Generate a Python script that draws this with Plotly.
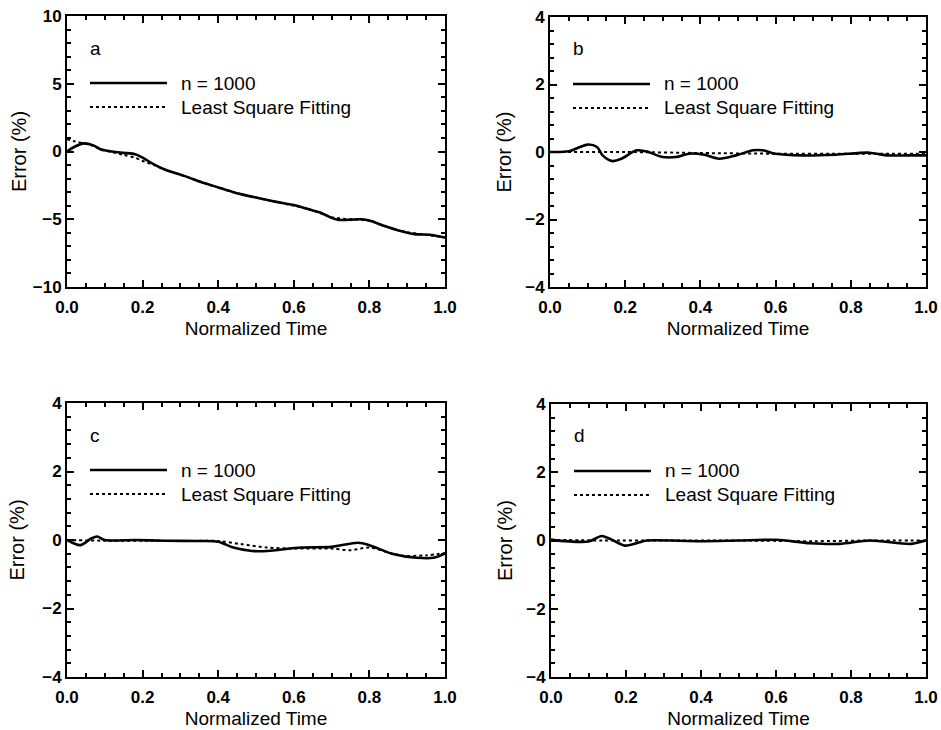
import plotly.graph_objects as go

# ---- data ----
a_sol_x = [0, 0.02, 0.044, 0.07, 0.09, 0.12, 0.15, 0.18, 0.2, 0.23, 0.26, 0.31, 0.36, 0.40, 0.44, 0.50, 0.55, 0.60, 0.65, 0.67, 0.70, 0.72, 0.78, 0.80, 0.84, 0.88, 0.92, 0.96, 1.0]
a_sol_y = [0, 0.35, 0.6, 0.45, 0.15, 0.0, -0.1, -0.2, -0.45, -0.95, -1.35, -1.8, -2.3, -2.65, -3.0, -3.4, -3.7, -3.95, -4.35, -4.5, -4.9, -5.05, -5.0, -5.1, -5.5, -5.85, -6.1, -6.15, -6.35]
a_fit_x = [0, 0.02, 0.044, 0.07, 0.09, 0.12, 0.15, 0.18, 0.2, 0.23, 0.26, 0.31, 0.36, 0.40, 0.44, 0.50, 0.55, 0.60, 0.65, 0.70, 0.75, 0.80, 0.85, 0.90, 0.95, 1.0]
a_fit_y = [0.9, 0.75, 0.6, 0.4, 0.15, -0.05, -0.25, -0.45, -0.7, -1.0, -1.35, -1.8, -2.3, -2.65, -3.0, -3.4, -3.7, -4.0, -4.35, -4.85, -5.0, -5.1, -5.6, -5.95, -6.15, -6.35]

b_sol_x = [0, 0.05, 0.08, 0.10, 0.125, 0.14, 0.166, 0.19, 0.23, 0.255, 0.30, 0.335, 0.37, 0.41, 0.45, 0.495, 0.54, 0.566, 0.60, 0.67, 0.76, 0.85, 0.895, 0.95, 1.0]
b_sol_y = [0, 0.02, 0.15, 0.22, 0.15, -0.1, -0.27, -0.2, 0.05, 0.02, -0.15, -0.15, -0.05, -0.08, -0.2, -0.1, 0.05, 0.05, -0.05, -0.1, -0.08, -0.02, -0.1, -0.1, -0.1]
b_fit_x = [0, 0.2, 0.4, 0.6, 0.8, 1.0]
b_fit_y = [0, 0.0, -0.03, -0.05, -0.05, -0.05]

c_sol_x = [0, 0.035, 0.065, 0.08, 0.1, 0.18, 0.26, 0.35, 0.40, 0.44, 0.49, 0.53, 0.62, 0.70, 0.77, 0.80, 0.86, 0.925, 0.97, 1.0]
c_sol_y = [0, -0.15, 0.05, 0.1, 0.0, 0.0, -0.02, -0.03, -0.05, -0.22, -0.32, -0.32, -0.22, -0.2, -0.08, -0.15, -0.4, -0.52, -0.52, -0.4]
c_fit_x = [0, 0.1, 0.2, 0.3, 0.4, 0.46, 0.53, 0.6, 0.7, 0.75, 0.8, 0.88, 0.95, 1.0]
c_fit_y = [0, -0.02, -0.02, -0.03, -0.03, -0.12, -0.22, -0.25, -0.25, -0.3, -0.22, -0.45, -0.45, -0.38]

d_sol_x = [0, 0.1, 0.135, 0.157, 0.197, 0.237, 0.255, 0.4, 0.5, 0.6, 0.69, 0.77, 0.85, 0.96, 1.0]
d_sol_y = [0.02, -0.03, 0.13, 0.05, -0.15, -0.05, 0.0, -0.02, 0.0, 0.02, -0.08, -0.1, 0.0, -0.1, 0.0]
d_fit_x = [0, 0.14, 0.3, 0.5, 0.7, 0.85, 1.0]
d_fit_y = [0.02, 0.0, 0.0, 0.0, -0.02, 0.0, 0.0]

panels = [
    ("a", a_sol_x, a_sol_y, a_fit_x, a_fit_y, [-10, 10], 5, 1),
    ("b", b_sol_x, b_sol_y, b_fit_x, b_fit_y, [-4, 4], 2, 0.4),
    ("c", c_sol_x, c_sol_y, c_fit_x, c_fit_y, [-4, 4], 2, 0.4),
    ("d", d_sol_x, d_sol_y, d_fit_x, d_fit_y, [-4, 4], 2, 0.4),
]
legend_labels = ["n = 1000", "Least Square Fitting"]
x_title = "Normalized Time"
y_title = "Error (%)"

W, H = 941, 730
# plot-area pixel boxes (left, right, top, bottom)
boxes = [(67, 445, 16, 287), (550, 926, 17, 287), (67, 445, 403, 677), (551, 926, 404, 677)]
ytitle_standoff = [1, 8, 12, 8]

FONT = "Liberation Sans, Arial, Helvetica, sans-serif"
fig = go.Figure()
shapes, annotations = [], []

for i, (lab, sx, sy, fx, fy, yr, ydt, yminor) in enumerate(panels):
    n = "" if i == 0 else str(i + 1)
    xa, ya = "x" + n, "y" + n
    l, r, t, b = boxes[i]
    fig.add_trace(go.Scatter(x=fx, y=fy, mode="lines", xaxis=xa, yaxis=ya,
                             line=dict(color="black", width=2, dash="dot", shape="spline", smoothing=0.8),
                             showlegend=False))
    fig.add_trace(go.Scatter(x=sx, y=sy, mode="lines", xaxis=xa, yaxis=ya,
                             line=dict(color="black", width=2.6, shape="spline", smoothing=0.8),
                             showlegend=False))
    common = dict(showline=True, linecolor="black", linewidth=2, mirror="allticks",
                  ticks="inside", ticklen=7, tickwidth=1.5, tickcolor="black",
                  showgrid=False, zeroline=False, automargin=False,
                  tickfont=dict(family=FONT, size=17, color="black", weight="bold"))
    fig.layout["xaxis" + n] = dict(common, domain=[l / W, r / W], range=[0, 1], dtick=0.2,
                                   tickformat=".1f", anchor=ya, ticklabelstandoff=4,
                                   minor=dict(dtick=0.05, ticks="inside", ticklen=4, tickwidth=1.5, tickcolor="black"),
                                   title=dict(text=x_title, font=dict(family=FONT, size=19, color="black"), standoff=5))
    fig.layout["yaxis" + n] = dict(common, domain=[(H - b) / H, (H - t) / H], range=yr, dtick=ydt,
                                   anchor=xa,
                                   minor=dict(dtick=yminor, ticks="inside", ticklen=4, tickwidth=1.5, tickcolor="black"),
                                   title=dict(text=y_title, font=dict(family=FONT, size=20, color="black"),
                                              standoff=ytitle_standoff[i]))
    xd, yd = xa + " domain", ya + " domain"
    h = b - t
    wdt = r - l
    row1 = (b - (t + 67)) / h
    row2 = (b - (t + 91)) / h
    x0, x1 = 23 / wdt, 100 / wdt
    shapes.append(dict(type="line", xref=xd, yref=yd, x0=x0, x1=x1, y0=row1, y1=row1,
                       line=dict(color="black", width=2.6)))
    shapes.append(dict(type="line", xref=xd, yref=yd, x0=x0, x1=x1, y0=row2, y1=row2,
                       line=dict(color="black", width=2, dash="dot")))
    for txt, yy in zip(legend_labels, [row1, row2]):
        annotations.append(dict(text=txt, xref=xd, yref=yd, x=112 / wdt, y=yy, xanchor="left",
                                yanchor="middle", showarrow=False,
                                font=dict(family=FONT, size=19, color="black")))
    annotations.append(dict(text=lab, xref=xd, yref=yd, x=28 / wdt, y=(b - (t + 32)) / h,
                            xanchor="center", yanchor="middle", showarrow=False,
                            font=dict(family=FONT, size=19, color="black")))

fig.update_layout(width=W, height=H, margin=dict(l=0, r=0, t=0, b=0),
                  paper_bgcolor="white", plot_bgcolor="white",
                  shapes=shapes, annotations=annotations, showlegend=False)
fig.write_html("out.html", config={"displayModeBar": False},
               post_script="document.body.style.margin='0';document.body.style.overflow='hidden';")
